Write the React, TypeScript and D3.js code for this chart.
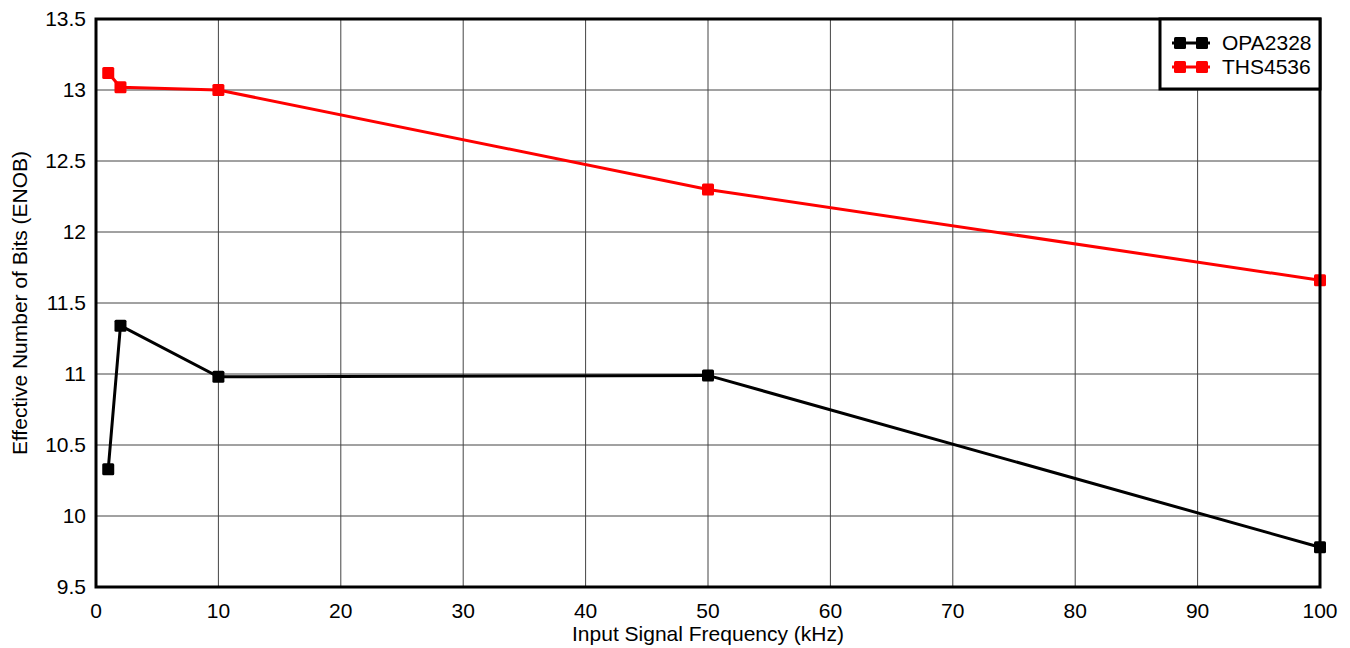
import React from "react";
import * as d3 from "d3";

const freqs = [1, 2, 10, 50, 100];
const opa2328 = [10.33, 11.34, 10.98, 10.99, 9.78];
const ths4536 = [13.12, 13.02, 13.0, 12.3, 11.66];
const xTicks = [0, 10, 20, 30, 40, 50, 60, 70, 80, 90, 100];
const yTicks = [9.5, 10, 10.5, 11, 11.5, 12, 12.5, 13, 13.5];
const seriesNames = ["OPA2328", "THS4536"];
const seriesColors = ["#000000", "#ff0000"];

export default function App() {
  const W = 1350, H = 648;
  const L = 96, R = 1320, T = 19, B = 587;
  const x = d3.scaleLinear().domain([0, 100]).range([L, R]);
  const y = d3.scaleLinear().domain([9.5, 13.5]).range([B, T]);
  const line = d3.line<number>().x((_, i) => x(freqs[i])).y((v) => y(v));
  const series = [opa2328, ths4536];
  const font = "Liberation Sans, Arial, sans-serif";
  const fs = 21;
  return (
    <svg width={W} height={H} style={{ position: "absolute", left: 0, top: 0 }} fontFamily={font}>
      <rect x={0} y={0} width={W} height={H} fill="#fff" />
      {xTicks.map((t) => (
        <line key={"gx" + t} x1={x(t)} x2={x(t)} y1={T} y2={B} stroke="#444" strokeWidth={1} />
      ))}
      {yTicks.map((t) => (
        <line key={"gy" + t} x1={L} x2={R} y1={y(t)} y2={y(t)} stroke="#444" strokeWidth={1} />
      ))}
      {series.map((s, si) => (
        <g key={si}>
          <path d={line(s) || ""} fill="none" stroke={seriesColors[si]} strokeWidth={3} />
          {s.map((v, i) => (
            <rect key={i} x={x(freqs[i]) - 6} y={y(v) - 6} width={12} height={12} rx={1.5} fill={seriesColors[si]} />
          ))}
        </g>
      ))}
      <rect x={L} y={T} width={R - L} height={B - T} fill="none" stroke="#000" strokeWidth={3} />
      {xTicks.map((t) => (
        <text key={"tx" + t} x={x(t)} y={618} textAnchor="middle" fontSize={fs} fill="#000">{t}</text>
      ))}
      {yTicks.map((t) => (
        <text key={"ty" + t} x={86} y={y(t) + 7} textAnchor="end" fontSize={fs} fill="#000">{t}</text>
      ))}
      <text x={(L + R) / 2} y={641} textAnchor="middle" fontSize={fs} fill="#000">Input Signal Frequency (kHz)</text>
      <text transform={`translate(27,${(T + B) / 2}) rotate(-90)`} textAnchor="middle" fontSize={fs} fill="#000">Effective Number of Bits (ENOB)</text>
      <g>
        <rect x={1160} y={T} width={R - 1160} height={70} fill="#fff" stroke="#000" strokeWidth={3} />
        {seriesNames.map((n, i) => {
          const cy = 43 + i * 24;
          return (
            <g key={n}>
              <line x1={1172} x2={1210} y1={cy} y2={cy} stroke={seriesColors[i]} strokeWidth={3} />
              <rect x={1174} y={cy - 6} width={12} height={12} rx={1.5} fill={seriesColors[i]} />
              <rect x={1196} y={cy - 6} width={12} height={12} rx={1.5} fill={seriesColors[i]} />
              <text x={1222} y={cy + 7} fontSize={fs} fill="#000">{n}</text>
            </g>
          );
        })}
      </g>
    </svg>
  );
}
